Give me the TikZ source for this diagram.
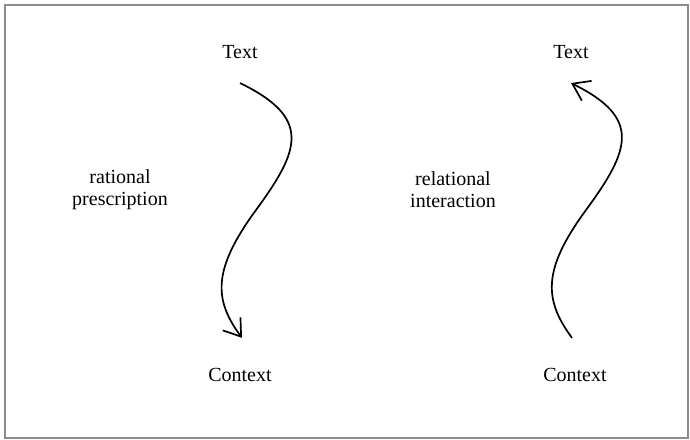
\documentclass[tikz,border=0pt]{standalone}
\usepackage{fontspec}
\setmainfont{Liberation Serif}
\usetikzlibrary{arrows.meta}
\definecolor{framegray}{RGB}{140,140,140}

\begin{document}
\begin{tikzpicture}[x=0.5pt,y=-0.5pt,
  lbl/.style={align=center,font=\fontsize{10}{11}\selectfont,inner sep=0pt},
  flow/.style={line width=0.85pt,-{Straight Barb[length=8pt,width=11pt,line width=0.85pt]}}]
  \useasboundingbox (0,0) rectangle (690,439);
  \draw[framegray,line width=1pt] (5,5) rectangle (688,438);
  \node[lbl] (textL) at (240,52) {Text};
  \node[lbl] (contextL) at (240,375) {Context};
  \node[lbl] (rational) at (120,190) {rational\\prescription};
  \node[lbl] (textR) at (571,52) {Text};
  \node[lbl] (contextR) at (575,375) {Context};
  \node[lbl] (relational) at (453,190) {relational\\interaction};
  \draw[flow] ([yshift=-12pt]textL.south) .. controls (312,118) and (300,150) .. (256,210)
    .. controls (212,270) and (214,300) .. ([xshift=1pt,yshift=15pt]contextL.north);
  \draw[flow] ([xshift=-1.5pt,yshift=15pt]contextR.north) .. controls (544,300) and (542,270) .. (586,210)
    .. controls (630,150) and (642,118) .. ([yshift=-12pt]textR.south);
\end{tikzpicture}
\end{document}
